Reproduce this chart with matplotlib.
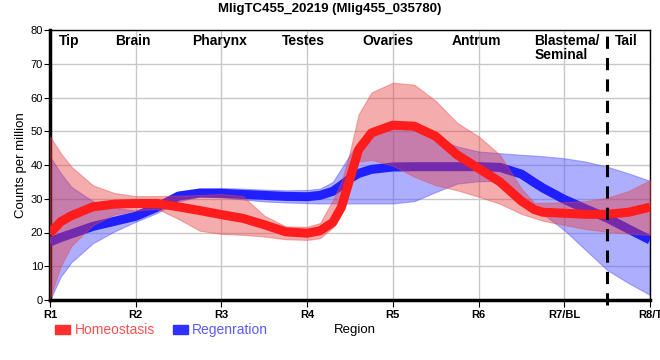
import matplotlib.pyplot as plt
from matplotlib.patches import Patch

plt.rcParams['font.family'] = ['Liberation Sans', 'DejaVu Sans']

# Values (region units, R1 = 1 ... R8 = 8)
positions = [1, 1.125, 1.25, 1.5, 1.75, 2, 2.25, 2.5, 2.75, 3, 3.25, 3.5, 3.75,
             4, 4.15, 4.3, 4.4, 4.5, 4.6, 4.75, 5, 5.25, 5.5, 5.75, 6, 6.25,
             6.5, 6.65, 6.75, 7, 7.25, 7.5, 7.75, 8]

homeo_mean = [19.8, 23.2, 25.0, 27.6, 28.4, 28.6, 28.6, 27.6, 26.5, 25.3, 24.2,
              22.3, 20.2, 19.8, 20.5, 23.0, 27.5, 36.0, 44.5, 49.5, 51.8, 51.5,
              48.5, 43.0, 39.0, 35.0, 29.3, 26.8, 26.0, 25.7, 25.4, 25.4, 26.0, 27.5]
homeo_low = [0.5, 10.0, 16.0, 22.2, 25.3, 26.5, 27.0, 24.0, 20.5, 19.6, 19.3,
             18.8, 18.0, 17.8, 18.3, 21.5, 27.0, 36.0, 41.0, 41.5, 39.8, 36.5,
             34.0, 32.5, 30.6, 28.5, 25.5, 24.3, 23.5, 22.2, 21.0, 20.2, 19.7, 19.3]
homeo_high = [48.5, 43.5, 39.5, 34.0, 31.7, 30.8, 30.8, 30.9, 31.1, 31.4, 30.8,
              25.0, 21.8, 21.7, 22.8, 29.6, 35.0, 44.0, 55.0, 61.5, 64.4, 63.8,
              59.0, 52.5, 48.5, 43.0, 33.0, 28.8, 28.8, 29.0, 29.3, 30.3, 32.3, 35.5]

regen_mean = [17.2, 18.5, 19.6, 21.8, 23.3, 24.8, 27.5, 30.8, 31.7, 31.6, 31.3,
              31.0, 30.7, 30.6, 31.0, 32.2, 34.0, 36.0, 37.5, 38.7, 39.4, 39.5,
              39.5, 39.5, 39.5, 39.3, 37.3, 34.8, 33.2, 29.8, 27.0, 24.3, 21.0, 17.8]
regen_low = [0.0, 6.9, 11.2, 16.8, 20.3, 23.2, 25.8, 29.2, 30.7, 30.4, 29.8,
             29.2, 28.9, 28.7, 28.6, 28.6, 28.6, 28.6, 28.6, 28.6, 28.6, 29.3,
             32.0, 34.5, 35.2, 35.3, 30.5, 27.4, 25.5, 20.7, 14.8, 8.9, 5.0, 1.5]
regen_high = [42.5, 37.6, 33.5, 29.3, 27.3, 26.5, 28.5, 31.8, 33.0, 33.2, 33.0,
              32.7, 32.5, 32.6, 33.0, 35.0, 39.0, 43.0, 47.0, 50.5, 51.4, 50.5,
              48.0, 45.5, 44.0, 43.5, 43.0, 42.8, 42.6, 42.0, 41.0, 39.5, 37.5, 35.3]

region_ticks = ['R1', 'R2', 'R3', 'R4', 'R5', 'R6', 'R7/BL', 'R8/T']
tissue_names = ['Tip', 'Brain', 'Pharynx', 'Testes', 'Ovaries', 'Antrum', 'Tail']
tissue_x = [1.22, 1.97, 2.98, 3.96, 4.94, 5.98, 7.72]
tail_boundary = 7.5

fig = plt.figure(figsize=(6.6, 3.6), dpi=100)
ax = fig.add_axes([50 / 660, 60 / 360, 600 / 660, 270 / 360])

# bands and lines (blue under red, like the reference)
ax.fill_between(positions, regen_low, regen_high, color='#4d4dff', alpha=0.45,
                linewidth=0.8, edgecolor=(0.3, 0.3, 1.0, 0.6), zorder=2)
ax.plot(positions, regen_mean, color='#2020ff', linewidth=6.5, zorder=3,
        solid_capstyle='butt', solid_joinstyle='round')
ax.fill_between(positions, homeo_low, homeo_high, color='#e83a3a', alpha=0.42,
                linewidth=0.8, edgecolor=(0.9, 0.3, 0.3, 0.6), zorder=4)
ax.plot(positions, homeo_mean, color='#ff1c1c', linewidth=6.5, zorder=5,
        solid_capstyle='butt', solid_joinstyle='round')

ax.axvline(tail_boundary, ymin=-0.02, ymax=1, color='black', linewidth=2.2,
           linestyle=(0, (4, 3)), zorder=6, clip_on=False)

ax.set_xlim(1, 8)
ax.set_ylim(0, 80)
ax.set_xticks(range(1, 9))
ax.set_xticklabels(region_ticks, fontsize=8, fontweight='bold')
ax.set_yticks(range(0, 81, 10))
ax.tick_params(axis='y', labelsize=8, length=4, pad=1)
ax.tick_params(axis='x', length=5, pad=2)
ax.grid(True, color='#c8c8c8', linewidth=1)
ax.set_axisbelow(True)

for side in ['left', 'bottom']:
    ax.spines[side].set_linewidth(2.5)
for side in ['top', 'right']:
    ax.spines[side].set_linewidth(1.0)

for name, xp in zip(tissue_names, tissue_x):
    ax.text(xp, 78.9, name, ha='center', va='top', fontsize=10,
            fontweight='bold', zorder=7)
ax.text(6.65, 78.9, 'Blastema/\nSeminal', ha='left', va='top', fontsize=10,
        fontweight='bold', linespacing=1.0, zorder=7)

ax.set_ylabel('Counts per million', fontsize=9.5, labelpad=3)
fig.text(355 / 660, 1 - 330 / 360, 'Region', ha='center', va='center',
         fontsize=9.5)
fig.text(330 / 660, 1 - 9 / 360, 'MligTC455_20219 (Mlig455_035780)',
         ha='center', va='center', fontsize=9.5, fontweight='bold')

handles = [Patch(color='#ff3030'), Patch(color='#3030ff')]
fig.legend(handles, ['Homeostasis', 'Regenration'], loc='center left',
           bbox_to_anchor=(55 / 660, 1 - 330 / 360), ncol=2, frameon=False,
           fontsize=10, labelcolor=['#ff5050', '#5a5aff'], handlelength=1.1,
           handleheight=0.6, handletextpad=0.3, columnspacing=1.3,
           borderaxespad=0, borderpad=0)

fig.savefig('out.png', dpi=100)
